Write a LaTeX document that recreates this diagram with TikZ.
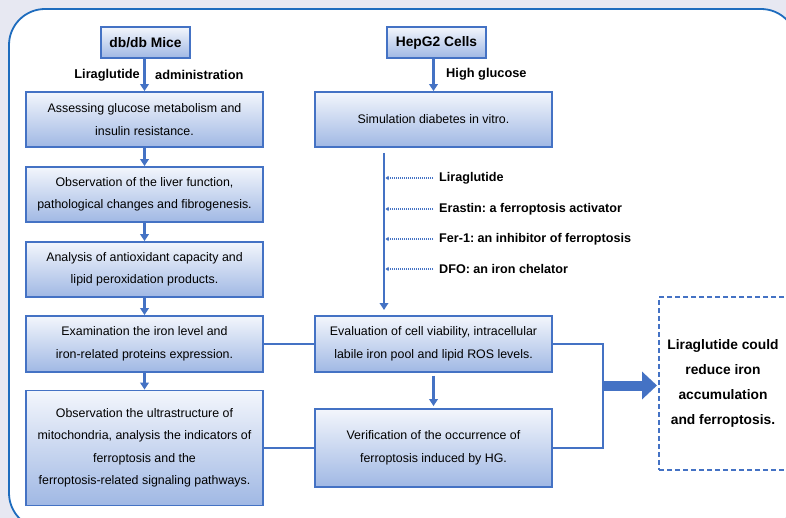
\documentclass[tikz,border=0pt]{standalone}
\usepackage{fontspec}
\setmainfont{Liberation Sans}
\usetikzlibrary{arrows.meta}
\definecolor{bord}{RGB}{68,114,196}
\definecolor{frm}{RGB}{30,108,190}
\definecolor{bgc}{RGB}{231,232,242}
\definecolor{topc}{RGB}{243,246,252}
\definecolor{botc}{RGB}{160,184,228}
\frenchspacing
\begin{document}
\begin{tikzpicture}[x=1pt,y=-1pt,
  box/.style={draw=bord, line width=1.8pt, top color=topc, bottom color=botc,
    align=center, inner sep=0pt, font=\fontsize{12.4}{22.5}\selectfont},
  titlebox/.style={box, font=\fontsize{13.8}{16}\selectfont\bfseries},
  lab/.style={font=\fontsize{12.8}{15}\selectfont\bfseries, inner sep=0pt},
  dlab/.style={font=\fontsize{12.6}{15}\selectfont\bfseries, inner xsep=6pt, inner ysep=0pt, anchor=west},
  arr/.style={draw=bord, line width=2.4pt, -{Triangle[length=7pt,width=8.5pt]}},
  conn/.style={draw=bord, line width=2.4pt},
  dotarr/.style={draw=bord, line width=1.1pt, dash pattern=on 1pt off 1pt, -{Triangle[length=3pt,width=4pt]}},
  concl/.style={draw=bord, line width=1.8pt, dash pattern=on 5pt off 3pt, fill=white,
    align=center, inner sep=0pt, font=\fontsize{13.8}{25}\selectfont\bfseries}
]
\useasboundingbox (0,0) rectangle (786,518);
\clip (0,0) rectangle (786,518);
\fill[bgc] (0,0) rectangle (786,518);
\draw[frm, line width=1.8pt, fill=white, rounded corners=36pt] (9,9) rectangle (797,529);

% left column
\node[titlebox, minimum width=89pt, minimum height=31pt] (t1) at (145.5,42.5) {db/db Mice};
\node[box, minimum width=237pt, minimum height=55pt] (b1) at (144.5,119.5) {Assessing glucose metabolism and\\insulin resistance.};
\node[box, minimum width=237pt, minimum height=55pt] (b2) at (144.5,194.5) {Observation of the liver function,\\pathological changes and fibrogenesis.};
\node[box, minimum width=237pt, minimum height=55pt] (b3) at (144.5,269.5) {Analysis of antioxidant capacity and\\lipid peroxidation products.};
\node[box, minimum width=237pt, minimum height=56pt] (b4) at (144.5,344) {Examination the iron level and\\iron-related proteins expression.};
\node[box, minimum width=237pt, minimum height=115pt] (b5) at (144.5,448) {Observation the ultrastructure of\\mitochondria, analysis the indicators of\\ferroptosis and the\\ferroptosis-related signaling pathways.};

\node[lab, anchor=east] (l1) at (140,75) {Liraglutide};
\node[lab, anchor=west] (l2) at (155,75) {administration};

\draw[arr] (t1.south -| b1.north) -- (b1.north);
\draw[arr] (b1.south) -- (b2.north);
\draw[arr] (b2.south) -- (b3.north);
\draw[arr] (b3.south) -- (b4.north);
\draw[arr] (b4.south) -- (b5.north);

% right column
\node[titlebox, minimum width=99pt, minimum height=31pt] (t2) at (436.5,42.5) {HepG2 Cells};
\node[box, minimum width=237pt, minimum height=55pt] (s1) at (433.5,119.5) {\raisebox{-5pt}{Simulation diabetes in vitro.}};
\node[box, minimum width=237pt, minimum height=56pt] (e1) at (433.5,344) {Evaluation of cell viability, intracellular\\labile iron pool and lipid ROS levels.};
\node[box, minimum width=237pt, minimum height=78pt] (v1) at (433.5,448) {\raisebox{-3pt}{\parbox{230pt}{\centering Verification of the occurrence of\\ferroptosis induced by HG.}}};

\node[lab, anchor=west] (l3) at (446,74) {High glucose};
\draw[arr] (t2.south -| s1.north) -- (s1.north);

\coordinate (vt) at (384,153);
\coordinate (vb) at (384,310);
\draw[arr] (vt) -- (vb);

\node[dlab] (d1) at (433,178) {Liraglutide};
\node[dlab] (d2) at (433,209) {Erastin: a ferroptosis activator};
\node[dlab] (d3) at (433,239) {Fer-1: an inhibitor of ferroptosis};
\node[dlab] (d4) at (433,269) {DFO: an iron chelator};
\foreach \n in {d1,d2,d3,d4}{
  \draw[dotarr, shorten >=1.5pt] (\n.west) -- (\n.west -| vt);
}

\draw[arr, shorten <=3pt, shorten >=2pt] (e1.south) -- (v1.north);

% cross connectors
\draw[conn] (b4.east) -- (e1.west);
\draw[conn] (b5.east) -- (v1.west);

\coordinate (br1) at (603,344);
\coordinate (br2) at (603,448);
\draw[conn] (e1.east) -- (br1) -- (br2) -- (v1.east);

% conclusion
\node[concl, minimum width=128pt, minimum height=173pt] (c1) at (723,383.5) {Liraglutide could\\reduce iron\\accumulation\\and ferroptosis.};
\coordinate (ba) at (602,385.5);
\coordinate (bb) at (657,385.5);
\draw[draw=bord, line width=10pt, -{Triangle[length=15pt,width=27pt]}] (ba) -- (bb);
\end{tikzpicture}
\end{document}
